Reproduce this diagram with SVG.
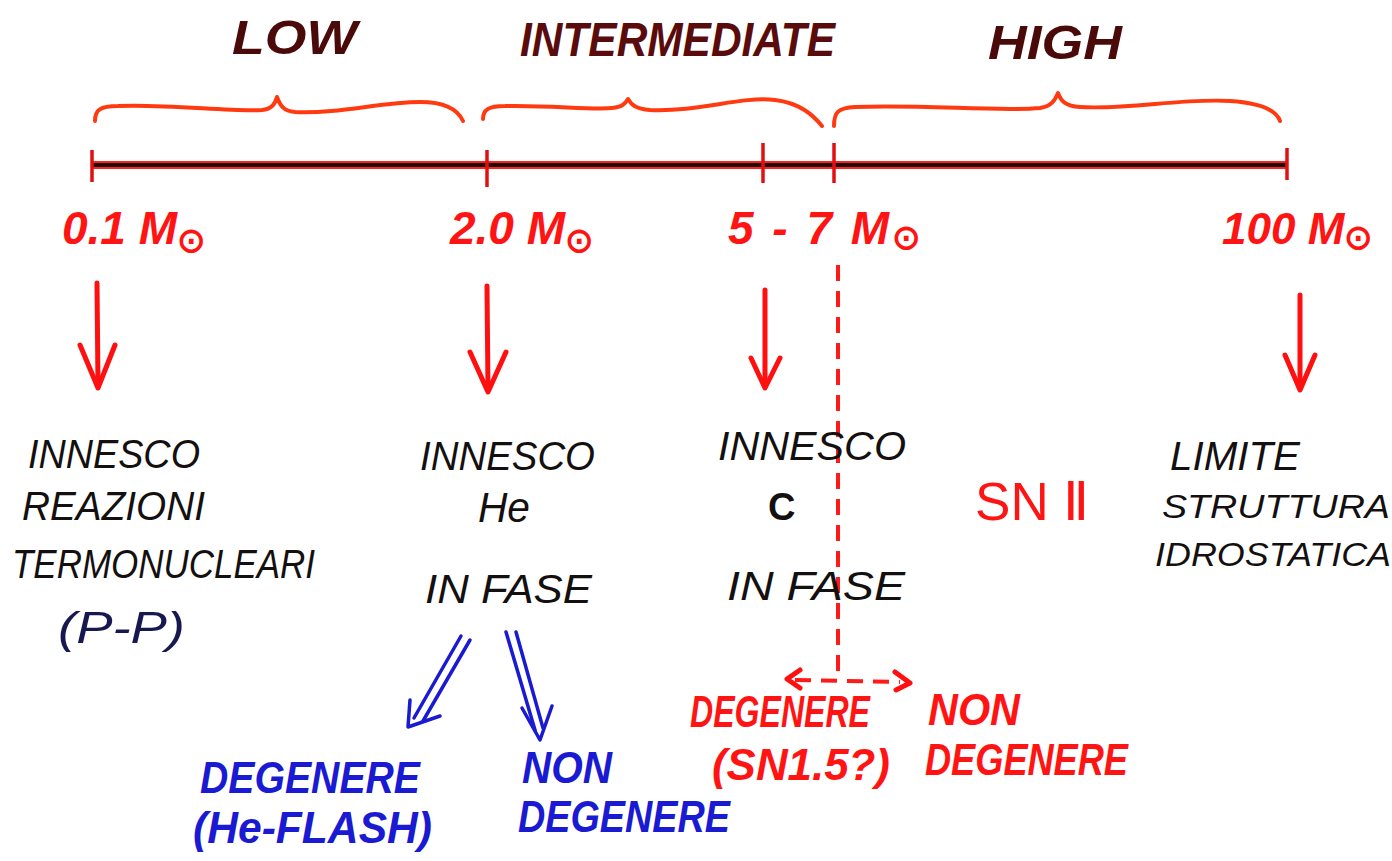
<svg xmlns="http://www.w3.org/2000/svg" width="1392" height="861" viewBox="0 0 1392 861">
<style>
  text { font-family: "Liberation Sans", Arial, sans-serif; font-style: italic; }
  .cat { font-size: 48px; font-weight: bold; fill: #4a0a0a; }
  .mass { font-size: 46px; font-weight: bold; fill: #ff1414; }
  .blk { font-size: 40px; fill: #141010; }
  .blue { font-size: 44px; font-weight: bold; fill: #1a1ad2; }
  .red { font-size: 44px; font-weight: bold; fill: #ff1414; }
  .sun { font-size: 34px; font-style: normal; }
  .brace { fill: none; stroke: #ff3a10; stroke-width: 4; stroke-linecap: round; stroke-linejoin: round; }
  .tick { stroke: #e01010; stroke-width: 3.5; }
  .rarrow { fill: none; stroke: #ff1010; stroke-width: 5; stroke-linecap: round; stroke-linejoin: round; }
  .barrow { fill: none; stroke: #1a1ad2; stroke-width: 3.5; stroke-linecap: round; stroke-linejoin: round; }
  .dash { fill: none; stroke: #ff1a1a; stroke-width: 4; stroke-dasharray: 16 10; }
</style>

<g id="categories">
  <text class="cat" x="232" y="54" textLength="125" lengthAdjust="spacingAndGlyphs">LOW</text>
  <text class="cat" x="520" y="56" textLength="315" lengthAdjust="spacingAndGlyphs" style="fill:#5a0c0c">INTERMEDIATE</text>
  <text class="cat" x="988" y="59" textLength="134" lengthAdjust="spacingAndGlyphs">HIGH</text>
</g>

<g id="braces">
  <path class="brace" d="M95,121 C95,110 100,106 118,106 C170,104 230,112 262,110 C272,109 275,104 277,97 C280,105 283,111 295,112 C340,114 380,102 420,102 C445,102 458,110 463,121"/>
  <path class="brace" d="M483,119 C483,110 488,106 505,106 C550,105 590,110 612,108 C622,107 625,104 628,99 C631,104 635,109 650,110 C700,112 740,96 775,100 C800,103 813,115 822,126"/>
  <path class="brace" d="M834,126 C834,112 838,108 855,107 C920,104 1000,112 1040,108 C1052,106 1055,100 1058,93 C1061,101 1065,106 1080,107 C1130,110 1180,98 1230,101 C1262,103 1276,110 1280,121"/>
</g>

<g id="axis">
  <line x1="92" y1="165" x2="1287" y2="165" stroke="#ff2020" stroke-width="8"/>
  <line x1="92" y1="165" x2="1287" y2="165" stroke="#1a0a0a" stroke-width="4"/>
  <line class="tick" x1="92" y1="150" x2="92" y2="182"/>
  <line class="tick" x1="487" y1="150" x2="487" y2="187"/>
  <line class="tick" x1="763" y1="143" x2="763" y2="183"/>
  <line class="tick" x1="834" y1="143" x2="834" y2="183"/>
  <line class="tick" x1="1287" y1="148" x2="1287" y2="180"/>
</g>

<g id="masses">
  <text class="mass" x="62" y="244">0.1 M<tspan class="sun" dy="8">⊙</tspan></text>
  <text class="mass" x="450" y="244">2.0 M<tspan class="sun" dy="8">⊙</tspan></text>
  <text class="mass" x="728" y="244" style="letter-spacing:3px">5 - 7 M<tspan class="sun" dy="5">⊙</tspan></text>
  <text class="mass" x="1222" y="244" style="font-size:44px">100 M<tspan class="sun" dy="5">⊙</tspan></text>
</g>

<g id="connectors">
  <line class="rarrow" x1="97" y1="283" x2="98" y2="386"/>
  <polyline class="rarrow" points="80,345 98,388 115,345"/>
  <line class="rarrow" x1="487" y1="286" x2="488" y2="390"/>
  <polyline class="rarrow" points="470,352 488,392 506,352"/>
  <line class="rarrow" x1="765" y1="290" x2="765" y2="386"/>
  <polyline class="rarrow" points="751,358 765,388 780,358"/>
  <line class="rarrow" x1="1300" y1="295" x2="1300" y2="388"/>
  <polyline class="rarrow" points="1285,355 1300,390 1315,355"/>

  <line class="dash" x1="838" y1="265" x2="838" y2="680"/>
  <line class="dash" x1="795" y1="680" x2="900" y2="682" stroke-dasharray="12 8"/>
  <polyline class="rarrow" points="800,670 787,679 800,688"/>
  <polyline class="rarrow" points="895,672 910,683 896,690"/>

  <line class="barrow" x1="461" y1="636" x2="414" y2="718"/>
  <line class="barrow" x1="470" y1="640" x2="423" y2="721"/>
  <polyline class="barrow" points="410,700 408,727 440,716"/>
  <line class="barrow" x1="506" y1="632" x2="535" y2="730"/>
  <line class="barrow" x1="516" y1="632" x2="543" y2="728"/>
  <polyline class="barrow" points="522,708 540,740 552,706"/>
</g>

<g id="node-low">
  <text class="blk" x="28" y="468" textLength="172" lengthAdjust="spacingAndGlyphs">INNESCO</text>
  <text class="blk" x="22" y="520" textLength="183" lengthAdjust="spacingAndGlyphs">REAZIONI</text>
  <text class="blk" x="12" y="578" textLength="303" lengthAdjust="spacingAndGlyphs">TERMONUCLEARI</text>
  <text class="blk" x="58" y="643" textLength="127" lengthAdjust="spacingAndGlyphs" style="fill:#181850;font-size:44px">(P-P)</text>
</g>

<g id="node-he">
  <text class="blk" x="420" y="470" textLength="175" lengthAdjust="spacingAndGlyphs">INNESCO</text>
  <text class="blk" x="478" y="522" textLength="52" lengthAdjust="spacingAndGlyphs" style="font-size:42px">He</text>
  <text class="blk" x="425" y="603" textLength="167" lengthAdjust="spacingAndGlyphs">IN FASE</text>
</g>

<g id="node-c">
  <text class="blk" x="718" y="460" textLength="188" lengthAdjust="spacingAndGlyphs">INNESCO</text>
  <text class="blk" x="768" y="520" style="font-weight:bold;font-style:normal;font-size:38px">C</text>
  <text class="blk" x="727" y="600" textLength="178" lengthAdjust="spacingAndGlyphs">IN FASE</text>
</g>

<g id="node-sn2">
  <text x="975" y="520" textLength="115" lengthAdjust="spacingAndGlyphs" style="font-size:54px;font-style:normal;fill:#ff1414">SN Ⅱ</text>
</g>

<g id="node-limit">
  <text class="blk" x="1170" y="470" textLength="130" lengthAdjust="spacingAndGlyphs">LIMITE</text>
  <text class="blk" x="1162" y="518" textLength="228" lengthAdjust="spacingAndGlyphs" style="font-size:34px">STRUTTURA</text>
  <text class="blk" x="1155" y="566" textLength="236" lengthAdjust="spacingAndGlyphs" style="font-size:34px">IDROSTATICA</text>
</g>

<g id="node-he-degenere">
  <text class="blue" x="200" y="793" textLength="220" lengthAdjust="spacingAndGlyphs">DEGENERE</text>
  <text class="blue" x="193" y="843" textLength="239" lengthAdjust="spacingAndGlyphs">(He-FLASH)</text>
</g>

<g id="node-he-nondegenere">
  <text class="blue" x="522" y="783" textLength="90" lengthAdjust="spacingAndGlyphs">NON</text>
  <text class="blue" x="518" y="832" textLength="212" lengthAdjust="spacingAndGlyphs">DEGENERE</text>
</g>

<g id="node-c-degenere">
  <text class="red" x="690" y="727" textLength="180" lengthAdjust="spacingAndGlyphs">DEGENERE</text>
  <text class="red" x="712" y="780" textLength="178" lengthAdjust="spacingAndGlyphs">(SN1.5?)</text>
</g>

<g id="node-c-nondegenere">
  <text class="red" x="928" y="725" textLength="92" lengthAdjust="spacingAndGlyphs">NON</text>
  <text class="red" x="925" y="775" textLength="203" lengthAdjust="spacingAndGlyphs">DEGENERE</text>
</g>
</svg>
